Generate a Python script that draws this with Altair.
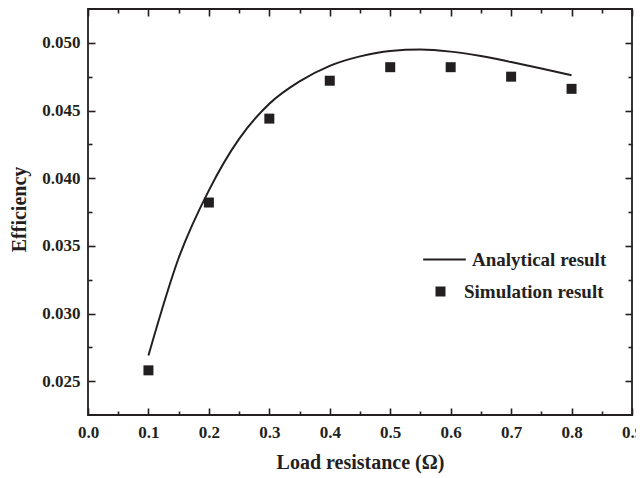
import altair as alt
import pandas as pd

# Analytical curve
ana_r = [0.10, 0.15, 0.20, 0.25, 0.30, 0.35, 0.40, 0.45, 0.50, 0.55,
         0.60, 0.65, 0.70, 0.75, 0.80]
ana_eff = [0.0269, 0.0341, 0.0391, 0.0429, 0.0455, 0.04715, 0.0483, 0.0490, 0.0494, 0.04950,
           0.04935, 0.04903, 0.04858, 0.04810, 0.04760]

# Simulation points
sim_r = [0.1, 0.2, 0.3, 0.4, 0.5, 0.6, 0.7, 0.8]
sim_eff = [0.0258, 0.0382, 0.0444, 0.0472, 0.0482, 0.0482, 0.0475, 0.0466]

x_major = [0.0, 0.1, 0.2, 0.3, 0.4, 0.5, 0.6, 0.7, 0.8, 0.9]
x_minor = [0.05, 0.15, 0.25, 0.35, 0.45, 0.55, 0.65, 0.75, 0.85]
y_major = [0.025, 0.030, 0.035, 0.040, 0.045, 0.050]
y_minor = [0.0275, 0.0325, 0.0375, 0.0425, 0.0475]

INK = "#231f20"
FONT = "Liberation Serif"

ana = pd.DataFrame({"R": ana_r, "eff": ana_eff, "series": "Analytical result"})
sim = pd.DataFrame({"R": sim_r, "eff": sim_eff, "series": "Simulation result"})

xs = alt.Scale(domain=[0, 0.9], nice=False, zero=False)
ys = alt.Scale(domain=[0.0225, 0.0525], nice=False, zero=False)

common_axis = dict(grid=False, domain=False, tickColor=INK, tickWidth=1.6,
                   labelFont=FONT, labelFontWeight="bold", labelColor=INK,
                   labelFontSize=17, labelFlush=False, labelOverlap=False)


def ax(orient, values, size, labels=False, fmt=None, title=None, **kw):
    opts = dict(common_axis)
    opts.update(orient=orient, values=values, tickSize=size, offset=-size,
                labels=labels, title=title)
    if fmt:
        opts["format"] = fmt
    opts.update(kw)
    return alt.Axis(**opts)


x_bottom = ax("bottom", x_major, 7, labels=True, fmt=".1f",
              title="Load resistance (Ω)", labelPadding=9,
              titleFont=FONT, titleFontWeight="bold", titleFontSize=20,
              titleColor=INK, titleY=60, titleBaseline="alphabetic")
y_left = ax("left", y_major, 7, labels=True, fmt=".3f",
            title="Efficiency", labelPadding=8,
            titleFont=FONT, titleFontWeight="bold", titleFontSize=20,
            titleColor=INK, titleX=-70, titleY=200, titleAngle=270,
            titleBaseline="alphabetic", titleAlign="center")

line = alt.Chart(ana).mark_line(strokeWidth=2, interpolate="monotone").encode(
    x=alt.X("R:Q", scale=xs, axis=x_bottom),
    y=alt.Y("eff:Q", scale=ys, axis=y_left),
    color=alt.Color("series:N", scale=alt.Scale(range=[INK]),
                    legend=alt.Legend(orient="none", legendX=334, legendY=228,
                                      title=None, symbolType="stroke",
                                      symbolSize=1823, symbolStrokeWidth=2,
                                      labelFont=FONT, labelFontWeight="bold",
                                      labelFontSize=19, labelColor=INK,
                                      labelOffset=5, padding=0)),
)

pts = alt.Chart(sim).mark_point(filled=True, size=100, opacity=1, color=INK).encode(
    x=alt.X("R:Q", scale=xs, axis=ax("top", x_major, 7)),
    y=alt.Y("eff:Q", scale=ys, axis=ax("right", y_major, 7)),
    shape=alt.Shape("series:N", scale=alt.Scale(range=["square"]),
                    legend=alt.Legend(orient="none", legendX=343, legendY=273,
                                      title=None, symbolSize=100,
                                      symbolFillColor=INK, symbolStrokeWidth=0,
                                      labelFont=FONT, labelFontWeight="bold",
                                      labelFontSize=19, labelColor=INK,
                                      labelOffset=14, padding=0)),
)

minor1 = alt.Chart(sim).mark_point(opacity=0).encode(
    x=alt.X("R:Q", scale=xs, axis=ax("bottom", x_minor, 4)),
    y=alt.Y("eff:Q", scale=ys, axis=ax("left", y_minor, 4)),
)
minor2 = alt.Chart(sim).mark_point(opacity=0).encode(
    x=alt.X("R:Q", scale=xs, axis=ax("top", x_minor, 4)),
    y=alt.Y("eff:Q", scale=ys, axis=ax("right", y_minor, 4)),
)

chart = alt.layer(line, pts, minor1, minor2).resolve_axis(
    x="independent", y="independent"
).properties(
    width=544, height=406,
    padding={"left": 80, "top": 1, "right": 4, "bottom": 60},
    autosize=alt.AutoSizeParams(type="none"),
).configure_view(stroke=INK, strokeWidth=1.8)

chart.save("out.html", embed_options={"renderer": "svg", "actions": False})
